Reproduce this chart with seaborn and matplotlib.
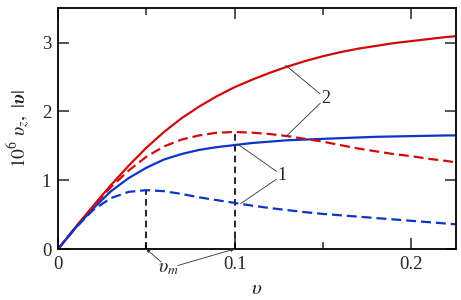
import numpy as np
import pandas as pd
import seaborn as sns
import matplotlib.pyplot as plt

sns.set_theme(style="ticks")
plt.rcParams["font.family"] = ["Liberation Serif", "DejaVu Serif"]
plt.rcParams["mathtext.fontset"] = "stix"

# speed grid
v = [0.0, 0.01, 0.02, 0.03, 0.04, 0.05, 0.06, 0.07, 0.08, 0.09, 0.10, 0.11,
     0.12, 0.13, 0.14, 0.15, 0.16, 0.17, 0.18, 0.19, 0.20, 0.21, 0.22, 0.225]

# curve 2 (red)
abs_v2 = [0.0, 0.32, 0.63, 0.93, 1.21, 1.47, 1.70, 1.90, 2.07, 2.22, 2.35, 2.46,
          2.56, 2.65, 2.73, 2.80, 2.86, 2.91, 2.95, 2.99, 3.02, 3.05, 3.08, 3.09]
vz2 = [0.0, 0.32, 0.62, 0.90, 1.14, 1.34, 1.49, 1.59, 1.65, 1.69, 1.70, 1.69,
       1.67, 1.64, 1.60, 1.56, 1.51, 1.46, 1.42, 1.38, 1.35, 1.31, 1.28, 1.26]

# curve 1 (blue)
abs_v1 = [0.0, 0.31, 0.59, 0.84, 1.03, 1.18, 1.30, 1.38, 1.44, 1.48, 1.51, 1.54,
          1.56, 1.58, 1.59, 1.60, 1.61, 1.62, 1.63, 1.635, 1.64, 1.645, 1.65, 1.65]
vz1 = [0.0, 0.31, 0.57, 0.74, 0.83, 0.855, 0.84, 0.80, 0.75, 0.71, 0.67, 0.63,
       0.595, 0.565, 0.535, 0.51, 0.49, 0.47, 0.45, 0.43, 0.41, 0.39, 0.37, 0.36]

# positions of the v_m maxima
vm = [0.05, 0.10]

# callouts: label, label position, pointed-at points
callouts = [
    ("2", (0.1515, 2.19), [(0.129, 2.67), (0.129, 1.63)]),
    ("1", (0.127, 1.07), [(0.102, 1.52), (0.1035, 0.66)]),
]

RED = "#d00a0a"
BLUE = "#0a35c8"

df = pd.DataFrame({"v": v, "abs2": abs_v2, "vz2": vz2, "abs1": abs_v1, "vz1": vz1})

fig = plt.figure(figsize=(4.61, 3.0), dpi=100)
ax = fig.add_axes([0.126, 0.17, 0.863, 0.803])

sns.lineplot(data=df, x="v", y="abs2", color=RED, lw=1.6, ax=ax)
sns.lineplot(data=df, x="v", y="abs1", color=BLUE, lw=1.6, ax=ax)
l1 = sns.lineplot(data=df, x="v", y="vz2", color=RED, lw=1.6, ax=ax).lines[-1]
l1.set_dashes((4.5, 2.2))
l2 = sns.lineplot(data=df, x="v", y="vz1", color=BLUE, lw=1.6, ax=ax).lines[-1]
l2.set_dashes((4.5, 2.2))

# vertical markers under the maxima
peaks = [vz1[v.index(vm[0])], vz2[v.index(vm[1])]]
for x0, y0 in zip(vm, peaks):
    ax.plot([x0, x0], [0, y0], color="black", lw=1.2, dashes=(4, 2.5), zorder=1)

ax.set_xlim(0, 0.2255)
ax.set_ylim(0, 3.5)
ax.set_xticks([0, 0.1, 0.2])
ax.set_xticklabels(["0", "0.1", "0.2"])
ax.set_xticks([0.05, 0.15], minor=True)
ax.set_yticks([0, 1, 2, 3])
ax.tick_params(which="both", direction="in", top=True, right=True,
               width=1.1, labelsize=13.5, pad=5)
ax.tick_params(which="major", length=8)
ax.tick_params(which="minor", length=5)
for s in ax.spines.values():
    s.set_linewidth(1.3)
    s.set_color("black")

ax.set_xlabel(r"$\mathit{\upsilon}$", fontsize=15, labelpad=5)
ax.set_ylabel(r"$10^6\ \upsilon_z,\ |\boldsymbol{\upsilon}|$", fontsize=14, labelpad=6)

thin = dict(arrowstyle="-", lw=0.6, color="#333333", shrinkA=5, shrinkB=0)
for lab, pos, targets in callouts:
    ax.text(*pos, lab, fontsize=13, ha="center", va="center")
    for t in targets:
        ax.annotate("", xy=t, xytext=pos, arrowprops=thin)

arr = dict(arrowstyle="-|>", lw=0.6, color="#333333", mutation_scale=5,
           shrinkA=7, shrinkB=0)
vm_pos = (0.0625, -0.28)
ax.text(*vm_pos, r"$\upsilon_m$", fontsize=14, ha="center", va="center")
for x0 in vm:
    ax.annotate("", xy=(x0, 0), xytext=vm_pos, arrowprops=arr,
                annotation_clip=False)

fig.savefig("out.png", dpi=100)
